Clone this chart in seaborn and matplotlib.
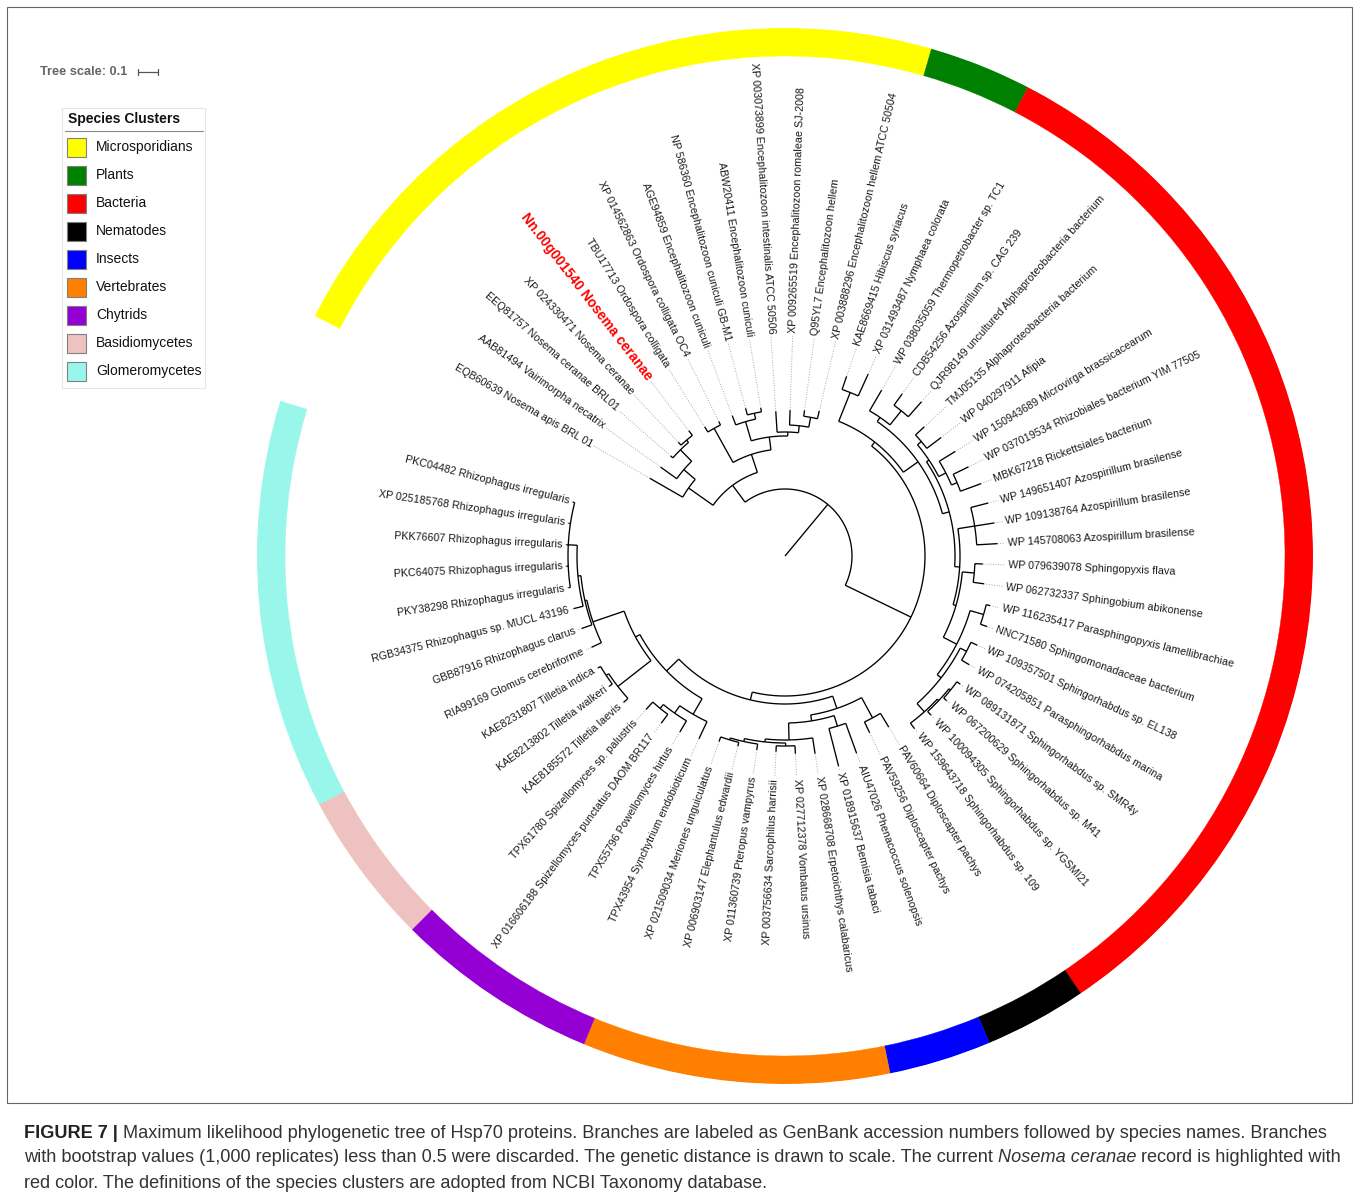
import numpy as np
import matplotlib
matplotlib.use("Agg")
import matplotlib.pyplot as plt
from matplotlib import font_manager
from matplotlib.patches import Rectangle
import seaborn as sns

# ---- data -------------------------------------------------------------
# leaf labels, clockwise starting at the left end of the microsporidian block
LEAVES = [
    "EQB60639 Nosema apis BRL 01",
    "AAB81494 Vairimorpha necatrix",
    "EEQ81757 Nosema ceranae BRL01",
    "XP 024330471 Nosema ceranae",
    "Nn.00g001540 Nosema ceranae",
    "TBU17713 Ordospora colligata",
    "XP 014562863 Ordospora colligata OC4",
    "AGE94859 Encephalitozoon cuniculi",
    "NP 586360 Encephalitozoon cuniculi GB-M1",
    "ABW20411 Encephalitozoon cuniculi",
    "XP 003073899 Encephalitozoon intestinalis ATCC 50506",
    "XP 009265519 Encephalitozoon romaleae SJ-2008",
    "Q95YL7 Encephalitozoon hellem",
    "XP 003888296 Encephalitozoon hellem ATCC 50504",
    "KAE8669415 Hibiscus syriacus",
    "XP 031493487 Nymphaea colorata",
    "WP 038035059 Thermopetrobacter sp. TC1",
    "CDB54256 Azospirillum sp. CAG 239",
    "QJR98149 uncultured Alphaproteobacteria bacterium",
    "TMJ05135 Alphaproteobacteria bacterium",
    "WP 040297911 Afipia",
    "WP 150943689 Microvirga brassicacearum",
    "WP 037019534 Rhizobiales bacterium YIM 77505",
    "MBK67218 Rickettsiales bacterium",
    "WP 149651407 Azospirillum brasilense",
    "WP 109138764 Azospirillum brasilense",
    "WP 145708063 Azospirillum brasilense",
    "WP 079639078 Sphingopyxis flava",
    "WP 062732337 Sphingobium abikonense",
    "WP 116235417 Parasphingopyxis lamellibrachiae",
    "NNC71580 Sphingomonadaceae bacterium",
    "WP 109357501 Sphingorhabdus sp. EL138",
    "WP 074205851 Parasphingorhabdus marina",
    "WP 089131871 Sphingorhabdus sp. SMR4y",
    "WP 067200629 Sphingorhabdus sp. M41",
    "WP 100094305 Sphingorhabdus sp. YGSMI21",
    "WP 159643718 Sphingorhabdus sp. 109",
    "PAV60664 Diploscapter pachys",
    "PAV59256 Diploscapter pachys",
    "AIU47026 Phenacoccus solenopsis",
    "XP 018915637 Bemisia tabaci",
    "XP 028668708 Erpetoichthys calabaricus",
    "XP 027712378 Vombatus ursinus",
    "XP 003756634 Sarcophilus harrisii",
    "XP 011360739 Pteropus vampyrus",
    "XP 006903147 Elephantulus edwardii",
    "XP 021509034 Meriones unguiculatus",
    "TPX43954 Synchytrium endobioticum",
    "TPX55796 Powellomyces hirtus",
    "XP 016606188 Spizellomyces punctatus DAOM BR117",
    "TPX61780 Spizellomyces sp. palustris",
    "KAE8185572 Tilletia laevis",
    "KAE8213802 Tilletia walkeri",
    "KAE8231807 Tilletia indica",
    "RIA99169 Glomus cerebriforme",
    "GBB87916 Rhizophagus clarus",
    "RGB34375 Rhizophagus sp. MUCL 43196",
    "PKY38298 Rhizophagus irregularis",
    "PKC64075 Rhizophagus irregularis",
    "PKK76607 Rhizophagus irregularis",
    "XP 025185768 Rhizophagus irregularis",
    "PKC04482 Rhizophagus irregularis",
]
HIGHLIGHT = 4   # the current Nosema ceranae record

CLUSTERS = ["Microsporidians", "Plants", "Bacteria", "Nematodes", "Insects",
            "Vertebrates", "Chytrids", "Basidiomycetes", "Glomeromycetes"]
CLUSTER_SIZES = [14, 2, 21, 2, 2, 6, 4, 3, 8]
CLUSTER_COLORS = ["#ffff00", "#008000", "#ff0000", "#000000", "#0000ff",
                  "#ff7f00", "#9400d3", "#efc2c2", "#98f7ea"]

# topology, numbers are indices into LEAVES, branch lengths in subst./site
MICRO_TREE = ("((0:0.19,(1:0.10,(2:0.015,(3:0.02,4:0.03):0.015):0.08):0.075):0.15,"
              "((5:0.03,6:0.02):0.195,((7:0.05,(8:0.035,9:0.02):0.03):0.10,"
              "(10:0.105,(11:0.075,(12:0.03,13:0.04):0.05):0.035):0.02):0.065):0.095):0.105")
BACT_TREE = ("((16:0.12,(17:0.07,18:0.10):0.09):0.025,"
             "(((19:0.06,20:0.09):0.025,(21:0.095,(22:0.085,23:0.11):0.03):0.04):0.015,"
             "((24:0.09,25:0.10,26:0.105):0.085,((27:0.04,28:0.055):0.06,"
             "((29:0.02,30:0.035):0.07,((31:0.035,32:0.045):0.035,"
             "(((33:0.02,34:0.02):0.01,35:0.025):0.01,36:0.035):0.055):0.025):0.075):0.015)"
             ":0.025):0.035):0.09")
PLANT_TREE = "(14:0.07,15:0.12):0.155"
ANIMAL_TREE = ("((37:0.08,38:0.06):0.115,((39:0.16,40:0.195):0.055,"
               "(41:0.08,((42:0.04,43:0.03):0.015,(44:0.03,(45:0.02,46:0.025):0.01)"
               ":0.015):0.015):0.085):0.03):0.065")
FUNGI_TREE = ("((47:0.095,(48:0.065,(49:0.055,50:0.05):0.025):0.045):0.09,"
              "((51:0.03,(52:0.02,53:0.015):0.015):0.21,"
              "(54:0.055,(55:0.055,(56:0.05,(57:0.01,58:0.01,59:0.01,60:0.01,61:0.01)"
              ":0.045):0.015):0.01):0.165):0.025):0.085")
TREE = ("(" + MICRO_TREE + ",((" + PLANT_TREE + "," + BACT_TREE + "):0.025,("
        + ANIMAL_TREE + "," + FUNGI_TREE + "):0.04):0.365):0.335;")
TREE_SCALE = 0.1

CAPTION = [
    [("FIGURE 7 |", "bold", "normal"),
     (" Maximum likelihood phylogenetic tree of Hsp70 proteins. Branches are labeled as "
      "GenBank accession numbers followed by species names. Branches", "normal", "normal")],
    [("with bootstrap values (1,000 replicates) less than 0.5 were discarded. The genetic "
      "distance is drawn to scale. The current", "normal", "normal"),
     (" Nosema ceranae", "normal", "italic"),
     (" record is highlighted with", "normal", "normal")],
    [("red color. The definitions of the species clusters are adopted from NCBI Taxonomy "
      "database.", "normal", "normal")],
]

# ---- layout -----------------------------------------------------------
W, H = 1359, 1201
CX, CY = 785, 556          # tree centre in pixels
PX_PER_UNIT = 200          # 0.1 subst./site = 20 px
R_OUT = 2.64
RING_IN = 2.50
LABEL_R = 1.115
THETA0 = 150.1             # angle of first leaf (deg)
STEP = 5.645               # angle between leaves (deg)
LW = 0.95

sns.set_theme(style="white")
plt.rcParams["font.family"] = ["Liberation Sans", "DejaVu Sans"]
names = {f.name for f in font_manager.fontManager.ttflist}
cap_font = "Liberation Sans Narrow" if "Liberation Sans Narrow" in names else "Liberation Sans"


def parse_newick(s):
    pos = 0

    def node():
        nonlocal pos
        n = {"children": [], "leaf": None, "length": 0.0}
        if s[pos] == "(":
            pos += 1
            while True:
                n["children"].append(node())
                if s[pos] == ",":
                    pos += 1
                else:
                    break
            pos += 1
        else:
            start = pos
            while s[pos] not in ":,);":
                pos += 1
            n["leaf"] = int(s[start:pos])
        if s[pos] == ":":
            pos += 1
            start = pos
            while s[pos] not in ",);":
                pos += 1
            n["length"] = float(s[start:pos])
        return n

    return node()


def layout(n, r_parent):
    n["r"] = r_parent + n["length"]
    for c in n["children"]:
        layout(c, n["r"])
    if n["leaf"] is not None:
        n["theta"] = THETA0 - n["leaf"] * STEP
    else:
        n["theta"] = (n["children"][0]["theta"] + n["children"][-1]["theta"]) / 2


fig = plt.figure(figsize=(W / 100, H / 100), dpi=100)
bg = fig.add_axes([0, 0, 1, 1])
bg.set_xlim(0, W)
bg.set_ylim(H, 0)
bg.set_axis_off()

rad = R_OUT * PX_PER_UNIT
ax = fig.add_axes([(CX - rad) / W, (H - CY - rad) / H, 2 * rad / W, 2 * rad / H],
                  projection="polar")
ax.set_axis_off()

# colour strip
start = 0
for size, color in zip(CLUSTER_SIZES, CLUSTER_COLORS):
    t1 = THETA0 - (start - 0.5) * STEP
    t2 = THETA0 - (start + size - 0.5) * STEP
    ax.bar(np.deg2rad((t1 + t2) / 2), R_OUT - RING_IN, width=np.deg2rad(abs(t1 - t2)),
           bottom=RING_IN, color=color, edgecolor=color, linewidth=0.3)
    start += size

tree = parse_newick(TREE)
layout(tree, 0.0)


def draw(n, r_parent):
    t = np.deg2rad(n["theta"])
    ax.plot([t, t], [r_parent, n["r"]], color="black", lw=LW, solid_capstyle="butt")
    if n["children"]:
        a = np.deg2rad(np.linspace(n["children"][0]["theta"], n["children"][-1]["theta"], 80))
        ax.plot(a, np.full_like(a, n["r"]), color="black", lw=LW, solid_capstyle="butt")
        for c in n["children"]:
            draw(c, n["r"])
        return
    ax.plot([t, t], [n["r"], LABEL_R - 0.012], color="#a8a8a8", lw=0.7,
            linestyle=(0, (1, 1.6)))
    d = (n["theta"] + 180) % 360 - 180
    if -90 < d <= 90:
        rot, ha = d, "left"
    else:
        rot, ha = (d - 180 if d > 0 else d + 180), "right"
    i = n["leaf"]
    if i == HIGHLIGHT:
        kw = dict(fontsize=10, fontweight="bold", color="#ff0000")
    else:
        kw = dict(fontsize=7.75, color="#1a1a1a")
    ax.text(t, LABEL_R, LEAVES[i], rotation=rot, rotation_mode="anchor",
            ha=ha, va="center", **kw)


draw(tree, 0.0)
ax.set_ylim(0, R_OUT)

# tree scale
bg.text(40, 72, "Tree scale: %g" % TREE_SCALE, fontsize=9.2, fontweight="bold",
        color="#666666", ha="left", va="center")
x0, x1 = 138, 138 + TREE_SCALE * PX_PER_UNIT
bg.plot([x0, x1], [72, 72], color="#555555", lw=0.9)
bg.plot([x0, x0], [69, 75], color="#555555", lw=0.9)
bg.plot([x1, x1], [69, 75], color="#555555", lw=0.9)

# legend
bg.add_patch(Rectangle((62, 108), 143, 280, fill=False, edgecolor="#e6e6e6", lw=0.8))
bg.text(68, 119, "Species Clusters", fontsize=10, fontweight="bold", color="#111111",
        ha="left", va="center")
bg.plot([65, 203], [131, 131], color="#888888", lw=0.8)
for k, (name, color) in enumerate(zip(CLUSTERS, CLUSTER_COLORS)):
    y = 147 + 28 * k
    bg.add_patch(Rectangle((67, y - 9.5), 19, 19, facecolor=color, edgecolor="#808080", lw=0.8))
    bg.text(96, y, name, fontsize=10, color="#111111", ha="left", va="center")

# frame
bg.add_patch(Rectangle((7, 7), W - 14, 1096, fill=False, edgecolor="#666666", lw=0.8))

# caption, fitted to the width of the first line
renderer = fig.canvas.get_renderer()


def caption_line(pieces, y, size):
    x = 24
    objs = []
    for text, weight, style in pieces:
        col = "#222222" if weight == "bold" else "#333333"
        t = bg.text(x, y, text, fontsize=size, fontweight=weight, fontstyle=style,
                    family=cap_font, color=col, ha="left", va="center")
        x += t.get_window_extent(renderer).width
        objs.append(t)
    return objs, x - 24


objs, w1 = caption_line(CAPTION[0], 1133, 12)
for o in objs:
    o.remove()
cap_size = 12 * 1304 / w1
for line, y in zip(CAPTION, [1133, 1158, 1183]):
    caption_line(line, y, cap_size)

fig.savefig("out.png", dpi=100)
